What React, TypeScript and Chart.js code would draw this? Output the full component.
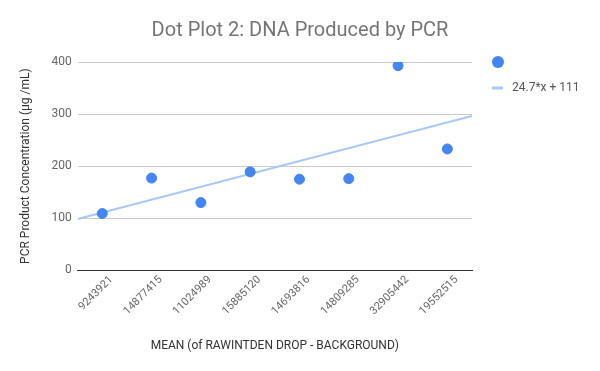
import React, { useEffect, useRef } from "react";
import { Chart, registerables } from "chart.js";

Chart.register(...registerables);

const categories = ["9243921", "14877415", "11024989", "15885120", "14693816", "14809285", "32905442", "19552515"];
const concentrations = [109, 177, 130, 189, 175, 176, 393, 233];
const trendSlope = 24.7;
const trendIntercept = 111;
const trendLabel = "24.7*x + 111";
const chartTitle = "Dot Plot 2: DNA Produced by PCR";
const yTicks = [0, 100, 200, 300, 400];

const POINT_COLOR = "#4285F4";
const TREND_COLOR = "#A9C8F7";

const sideLegendAndTitle = {
  id: "sideLegendAndTitle",
  afterDraw(chart: any) {
    const { ctx, chartArea, width } = chart;
    const x0 = chartArea.right;
    const y0 = chartArea.top;
    ctx.save();
    // title centred on the whole canvas
    ctx.fillStyle = "#757575";
    ctx.font = "20px Roboto";
    ctx.textAlign = "center";
    ctx.textBaseline = "middle";
    ctx.fillText(chartTitle, width / 2, 31);
    // scatter series marker
    ctx.fillStyle = POINT_COLOR;
    ctx.beginPath();
    ctx.arc(x0 + 26, y0, 6, 0, Math.PI * 2);
    ctx.fill();
    // trendline marker
    ctx.strokeStyle = TREND_COLOR;
    ctx.lineWidth = 3;
    ctx.beginPath();
    ctx.moveTo(x0 + 20, y0 + 26);
    ctx.lineTo(x0 + 31, y0 + 26);
    ctx.stroke();
    ctx.fillStyle = "#555555";
    ctx.font = "12px Roboto";
    ctx.textBaseline = "middle";
    ctx.textAlign = "left";
    ctx.fillText(chart.data.datasets[1].label, x0 + 40, y0 + 26);
    ctx.restore();
  },
};

export default function App() {
  const ref = useRef<HTMLCanvasElement>(null);
  useEffect(() => {
    document.body.style.margin = "0";
    const ctx = ref.current!;
    const xMin = -0.5;
    const xMax = categories.length - 0.5;
    const chart = new Chart(ctx, {
      type: "scatter",
      data: {
        datasets: [
          {
            label: "",
            data: concentrations.map((v, i) => ({ x: i, y: v })),
            backgroundColor: POINT_COLOR,
            borderColor: POINT_COLOR,
            pointRadius: 5,
            pointHoverRadius: 5,
            pointStyle: "circle",
          },
          {
            type: "line",
            label: trendLabel,
            data: [
              { x: xMin, y: trendIntercept + trendSlope * xMin },
              { x: xMax, y: trendIntercept + trendSlope * xMax },
            ],
            borderColor: TREND_COLOR,
            backgroundColor: TREND_COLOR,
            borderWidth: 2,
            pointRadius: 0,
            fill: false,
          } as any,
        ],
      },
      options: {
        animation: false,
        responsive: false,
        layout: { padding: { left: 15, right: 128, top: 62, bottom: 14 } },
        plugins: {
          title: { display: false },
          legend: { display: false },
          tooltip: { enabled: false },
        },
        scales: {
          x: {
            type: "linear",
            min: xMin,
            max: xMax,
            afterBuildTicks: (axis: any) => {
              axis.ticks = categories.map((_, i) => ({ value: i }));
            },
            ticks: {
              autoSkip: false,
              maxRotation: 45,
              minRotation: 45,
              padding: 3,
              labelOffset: 9,
              color: "#666666",
              font: { family: "Roboto", size: 11 },
              callback: (v: any) => categories[Math.round(Number(v))] ?? "",
            },
            grid: { display: false, drawTicks: false },
            border: { display: true, color: "#333333", width: 1 },
            title: {
              display: true,
              text: "MEAN (of RAWINTDEN DROP - BACKGROUND)",
              color: "#333333",
              font: { family: "Roboto", size: 12 },
              padding: { top: 18 },
            },
          },
          y: {
            min: 0,
            max: 400,
            afterBuildTicks: (axis: any) => {
              axis.ticks = yTicks.map((v) => ({ value: v }));
            },
            ticks: {
              color: "#666666",
              font: { family: "Roboto", size: 12 },
              padding: 6,
            },
            grid: { color: "#cccccc", drawTicks: false },
            border: { display: false },
            title: {
              display: true,
              text: "PCR Product Concentration (µg /mL)",
              color: "#333333",
              font: { family: "Roboto", size: 12 },
              padding: { bottom: 12 },
            },
          },
        },
      },
      plugins: [sideLegendAndTitle],
    });
    return () => chart.destroy();
  }, []);
  return <canvas ref={ref} width={600} height={371} style={{ display: "block" }} />;
}
